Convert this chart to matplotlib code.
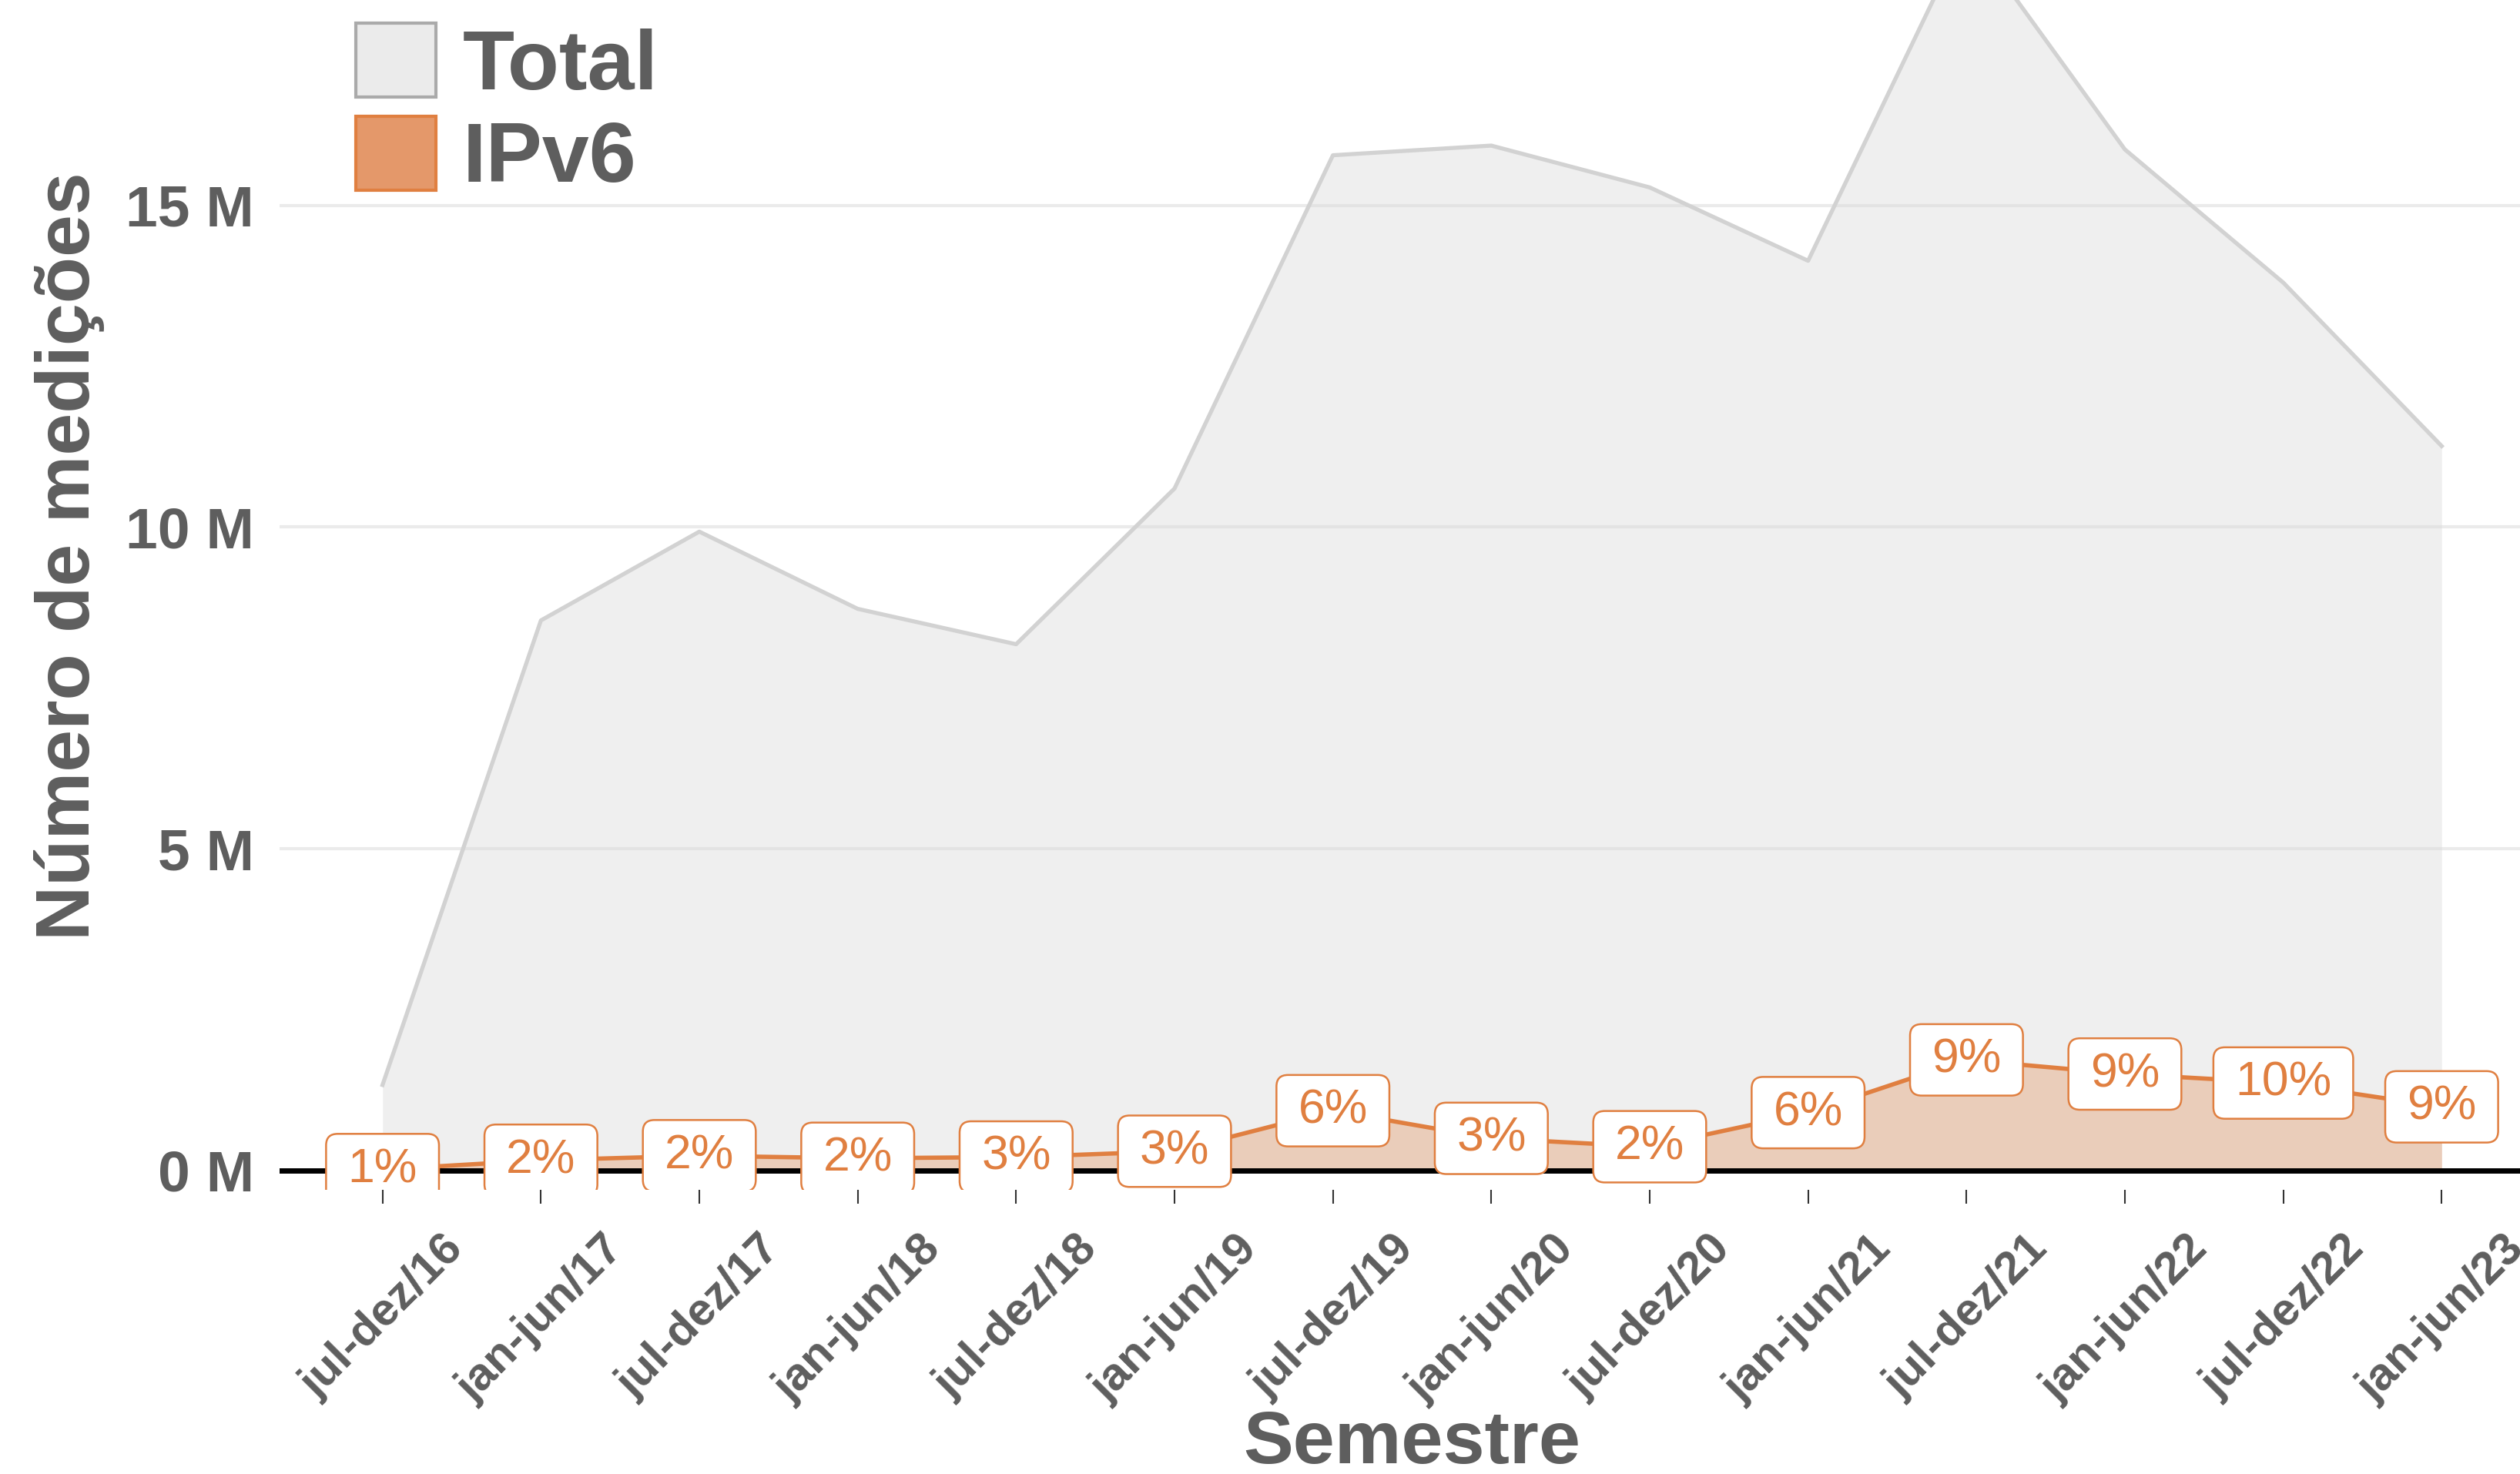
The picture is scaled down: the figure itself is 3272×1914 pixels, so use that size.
import matplotlib
matplotlib.use('Agg')
import matplotlib.pyplot as plt
from matplotlib.patches import BoxStyle, Patch
from matplotlib.ticker import FuncFormatter
import numpy as np

# ---------------- data ----------------
semestres = ["jul-dez/16", "jan-jun/17", "jul-dez/17", "jan-jun/18", "jul-dez/18",
             "jan-jun/19", "jul-dez/19", "jan-jun/20", "jul-dez/20", "jan-jun/21",
             "jul-dez/21", "jan-jun/22", "jul-dez/22", "jan-jun/23"]
total_m = [1.33, 8.55, 9.93, 8.73, 8.18, 10.60, 15.78, 15.93, 15.28, 14.14,
           19.27, 15.87, 13.80, 11.26]
ipv6_m = [0.015, 0.16, 0.23, 0.19, 0.21, 0.30, 0.93, 0.50, 0.37, 0.90,
          1.72, 1.50, 1.36, 0.99]
pct_labels = ["1%", "2%", "2%", "2%", "3%", "3%", "6%", "3%", "2%", "6%",
              "9%", "9%", "10%", "9%"]
y_ticks = [0, 5, 10, 15]
legend_labels = ["Total", "IPv6"]

# ---------------- style ----------------
plt.rcParams['font.family'] = ['Liberation Sans', 'DejaVu Sans']
TXT = '#5E5E5E'
ORANGE = '#E07F40'
GRID = '#EBEBEB'

W, H = 3272, 1914
fig = plt.figure(figsize=(W / 100, H / 100), dpi=100)
fig.patch.set_facecolor('white')
ax = fig.add_axes([363 / W, (H - 1545) / H, 2941 / W, 1645 / H])
x = np.arange(len(semestres))

ax.set_xlim(-0.65, len(semestres) - 1 + 0.65)
ax.set_ylim(-0.30, 19.39)
for s in ax.spines.values():
    s.set_visible(False)

ax.set_yticks(y_ticks)
ax.yaxis.set_major_formatter(FuncFormatter(lambda v, p: f"{v:.0f} M"))
ax.grid(axis='y', color=GRID, lw=3)
ax.grid(axis='x', visible=False)
ax.set_axisbelow(True)

ax.fill_between(x, 0, total_m, color='#D9D9D9', alpha=0.4, lw=0, zorder=1)
ax.plot(x, total_m, color='#D2D2D2', lw=3.8, zorder=2)
ax.fill_between(x, 0, ipv6_m, color=ORANGE, alpha=0.3, lw=0, zorder=3)
ax.plot(x, ipv6_m, color=ORANGE, lw=4, zorder=4)
ax.axhline(0, color='black', lw=5, zorder=5)


def label_box(x0, y0, width, height, mutation_size):
    px = 0.45 * mutation_size
    py = 0.27 * mutation_size
    return BoxStyle.Round(pad=0, rounding_size=0.24)(
        x0 - px, y0 - py, width + 2 * px, height + 2 * py, mutation_size)


for xi, yi, lab in zip(x, ipv6_m, pct_labels):
    ax.text(xi, yi, lab, ha='center', va='center', fontsize=45, color=ORANGE,
            zorder=10, clip_on=True,
            bbox=dict(boxstyle=label_box, facecolor='white', edgecolor=ORANGE, lw=1.8))

ax.set_xticks(x)
ax.set_xticklabels(semestres, rotation=45, ha='center', va='top', fontsize=43,
                   fontweight='bold', color=TXT)
ax.tick_params(axis='x', length=13, width=1.5, color='#333333', pad=22)
ax.tick_params(axis='y', length=0, pad=24, labelsize=54, labelcolor=TXT)
for t in ax.get_yticklabels():
    t.set_fontweight('bold')

ax.set_xlabel('Semestre', fontsize=70, fontweight='bold', color=TXT, labelpad=0)
ax.set_ylabel('Número de medições', fontsize=71, fontweight='bold', color=TXT, labelpad=19)

handles = [Patch(facecolor='#EBEBEB', edgecolor='#AAAAAA', lw=3, label=legend_labels[0]),
           Patch(facecolor='#E4986A', edgecolor=ORANGE, lw=3, label=legend_labels[1])]
leg = ax.legend(handles=handles, loc='upper left',
                bbox_to_anchor=(462 / W, 1 - 30 / H), bbox_transform=fig.transFigure,
                frameon=False, borderpad=0, borderaxespad=0, handlelength=0.95,
                handleheight=0.97, handletextpad=0.31, labelspacing=0.11,
                prop={'family': 'Liberation Sans', 'weight': 'bold', 'size': 79})
for t in leg.get_texts():
    t.set_color(TXT)

fig.savefig('out.png', dpi=100)
